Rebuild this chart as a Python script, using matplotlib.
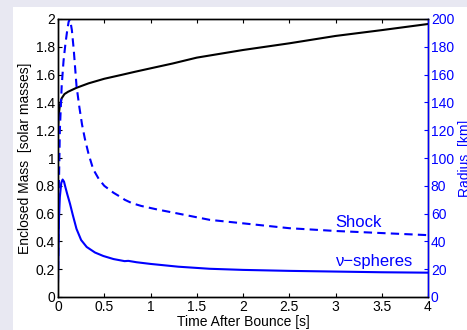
import matplotlib
matplotlib.use("Agg")
import matplotlib.pyplot as plt
from matplotlib.patches import Rectangle

plt.rcParams['font.family'] = ['Liberation Sans', 'DejaVu Sans']

# Enclosed mass (left axis, solar masses)
t_mass = [0.0, 0.005, 0.01, 0.02, 0.04, 0.07, 0.11, 0.2, 0.33, 0.5, 0.7, 0.83, 1.0,
          1.24, 1.5, 2.0, 2.5, 3.0, 3.5, 4.0]
mass = [1.2, 1.27, 1.32, 1.38, 1.43, 1.46, 1.477, 1.505, 1.537, 1.57, 1.6, 1.62, 1.645,
        1.68, 1.722, 1.777, 1.825, 1.878, 1.92, 1.964]

# Shock radius (right axis, km)
t_shock = [0.0, 0.01, 0.02, 0.04, 0.06, 0.08, 0.1, 0.115, 0.13, 0.15, 0.17, 0.2, 0.23,
           0.26, 0.29, 0.33, 0.38, 0.44, 0.5, 0.6, 0.7, 0.72, 0.8, 0.9, 1.07, 1.3, 1.64,
           2.0, 2.5, 3.0, 3.5, 4.0]
shock = [10, 80, 120, 152, 170, 182, 192, 198, 200, 192, 178, 152, 137,
         124, 114, 103, 92, 85, 80, 75, 71, 70, 67.5, 65.5, 63, 60, 55.5,
         53, 49.5, 47.5, 46, 44.5]

# Neutrinosphere radius (right axis, km)
t_nu = [0.0, 0.01, 0.02, 0.035, 0.05, 0.065, 0.08, 0.1, 0.13, 0.16, 0.2, 0.25, 0.31,
        0.4, 0.49, 0.6, 0.72, 0.76, 0.85, 1.0, 1.3, 1.64, 2.0, 2.5, 3.0, 3.5, 4.0]
nu = [12, 55, 72, 82, 84.5, 83, 79, 74, 67, 59, 49, 41, 36,
      32, 29.5, 27.3, 25.8, 26, 25, 23.8, 21.8, 20.3, 19.5, 18.8, 18.3, 17.8, 17.5]

xticks = [0, 0.5, 1, 1.5, 2, 2.5, 3, 3.5, 4]
xticklabels = ['0', '0.5', '1', '1.5', '2', '2.5', '3', '3.5', '4']
yticks_left = [0, 0.2, 0.4, 0.6, 0.8, 1, 1.2, 1.4, 1.6, 1.8, 2]
yticklabels_left = ['0', '0.2', '0.4', '0.6', '0.8', '1', '1.2', '1.4', '1.6', '1.8', '2']
yticks_right = list(range(0, 201, 20))

blue = '#0000ff'
fs = 10

fig = plt.figure(figsize=(4.67, 3.30), dpi=100)
fig.patch.set_facecolor('white')
# light frame strips along the left and top edges
fig.add_artist(Rectangle((0, 0), 13 / 467, 1, transform=fig.transFigure,
                         facecolor='#e8e8f2', edgecolor='none', zorder=0))
fig.add_artist(Rectangle((0, 1 - 7 / 330), 1, 7 / 330, transform=fig.transFigure,
                         facecolor='#e8e8f2', edgecolor='none', zorder=0))

ax = fig.add_axes([58 / 467, 33 / 330, 370 / 467, 278 / 330])
ax2 = ax.twinx()

ax.plot(t_mass, mass, color='black', lw=1.5)
ax.set_xlim(0, 4)
ax.set_ylim(0, 2)
ax.set_xticks(xticks)
ax.set_xticklabels(xticklabels)
ax.set_yticks(yticks_left)
ax.set_yticklabels(yticklabels_left)
ax.tick_params(axis='both', direction='in', length=3, labelsize=fs, pad=2, top=True)
ax.tick_params(axis='y', right=False)
ax.set_xlabel('Time After Bounce [s]', fontsize=fs, labelpad=1)
ax.set_ylabel('Enclosed Mass  [solar masses]', fontsize=fs, labelpad=3)

ax2.plot(t_shock, shock, color=blue, lw=1.5, linestyle=(0, (4, 2.5)))
ax2.plot(t_nu, nu, color=blue, lw=1.5)
ax2.set_ylim(0, 200)
ax2.set_yticks(yticks_right)
ax2.tick_params(axis='y', direction='in', length=3, labelsize=fs, colors=blue, pad=2)
ax2.set_ylabel('Radius  [km]', fontsize=fs, color=blue, labelpad=3)

ax2.text(3.0, 50.4, 'Shock', color=blue, fontsize=12, va='baseline', ha='left')
ax2.text(3.0, 22.3, 'ν−spheres', color=blue, fontsize=12, va='baseline', ha='left')

for a in (ax, ax2):
    for s in a.spines.values():
        s.set_linewidth(1.0)
ax2.spines['right'].set_color(blue)
ax2.spines['left'].set_color('black')

fig.savefig('out.png', dpi=100)
